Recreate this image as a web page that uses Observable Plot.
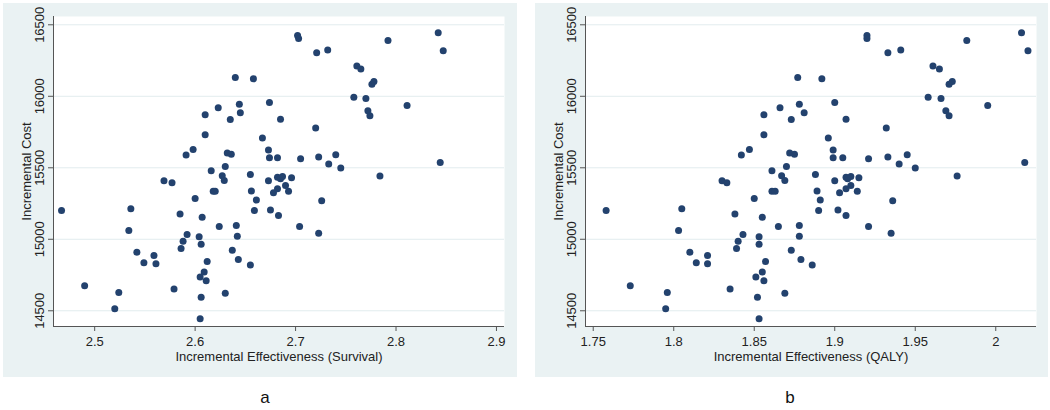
<!DOCTYPE html>
<html>
<head>
<meta charset="utf-8">
<script src="https://cdn.jsdelivr.net/npm/d3@7"></script>
<script src="https://cdn.jsdelivr.net/npm/@observablehq/plot@0.6"></script>
<style>
  html, body { margin: 0; padding: 0; background: #ffffff; }
  #wrap { position: relative; width: 1050px; height: 410px; overflow: hidden; font-family: 'Liberation Sans', Arial, sans-serif; }
  .panel { position: absolute; top: 3px; }
  .tag { position: absolute; top: 388px; font-size: 17px; line-height: 20px; color: #111; transform: translateX(-50%); }
</style>
</head>
<body>
<div id="wrap">
  <div class="panel" id="pa" style="left:3px"></div>
  <div class="panel" id="pb" style="left:535px"></div>
  <div class="tag" style="left:265px">a</div>
  <div class="tag" style="left:790px">b</div>
</div>
<script>
const cost = [16131,16122,15945,15885,15920,15871,15838,15731,15708,15628,
15589,15603,15594,15509,15479,15444,15411,15453,15409,15395,
16425,16404,16444,16318,16390,16304,16323,16211,16190,16085,
16103,15957,15994,15985,15936,15899,15864,15839,15778,15624,
15570,15570,15563,15575,15591,15526,15498,15537,15442,15409,
15434,15423,15439,15430,15376,15353,15336,15325,15336,15336,
15337,15285,15274,15269,15176,15154,15201,15205,15166,15090,
15097,15022,15089,15043,15034,15017,14987,14965,14936,14924,
14845,14859,14820,14771,14736,14710,14652,14622,14594,14444,
15201,15213,15062,14910,14836,14887,14829,14675,14628,14514];

const survival = [2.640,2.658,2.644,2.645,2.623,2.610,2.635,2.610,2.667,2.598,
2.591,2.632,2.636,2.630,2.616,2.627,2.629,2.655,2.569,2.577,
2.702,2.703,2.842,2.847,2.792,2.721,2.732,2.761,2.765,2.776,
2.778,2.674,2.758,2.770,2.811,2.772,2.774,2.685,2.720,2.673,
2.674,2.682,2.705,2.723,2.740,2.733,2.745,2.844,2.784,2.673,
2.682,2.685,2.687,2.696,2.690,2.682,2.693,2.678,2.618,2.620,
2.656,2.600,2.661,2.726,2.585,2.607,2.659,2.675,2.683,2.624,
2.641,2.642,2.704,2.723,2.592,2.604,2.588,2.606,2.586,2.637,
2.612,2.643,2.655,2.609,2.605,2.611,2.579,2.630,2.606,2.605,
2.467,2.536,2.534,2.542,2.549,2.559,2.561,2.490,2.524,2.520];

const qaly = [1.877,1.892,1.878,1.881,1.866,1.856,1.873,1.856,1.896,1.847,
1.842,1.872,1.875,1.870,1.861,1.867,1.869,1.888,1.830,1.833,
1.920,1.920,2.016,2.020,1.982,1.933,1.941,1.961,1.965,1.971,
1.973,1.900,1.958,1.966,1.995,1.969,1.971,1.907,1.932,1.899,
1.899,1.905,1.921,1.933,1.945,1.940,1.950,2.018,1.976,1.900,
1.907,1.908,1.910,1.915,1.910,1.907,1.914,1.903,1.861,1.863,
1.889,1.850,1.891,1.936,1.838,1.855,1.890,1.902,1.907,1.865,
1.878,1.878,1.921,1.935,1.843,1.853,1.840,1.853,1.839,1.873,
1.857,1.879,1.886,1.855,1.851,1.856,1.835,1.869,1.852,1.853,
1.758,1.805,1.803,1.810,1.814,1.821,1.821,1.773,1.796,1.795];

const yTicks = [14500, 15000, 15500, 16000, 16500];
const survTicks = [2.5, 2.6, 2.7, 2.8, 2.9];
const qalyTicks = [1.75, 1.8, 1.85, 1.9, 1.95, 2];
const yLabel = "Incremental Cost";
const survLabel = "Incremental Effectiveness (Survival)";
const qalyLabel = "Incremental Effectiveness (QALY)";

function panel(xs, xLabel, xDomain, xTicks, width, marginRight) {
  const data = cost.map((c, i) => ({x: xs[i], y: c}));
  const yDomain = [14390, 16558];
  return Plot.plot({
    width, height: 374,
    marginLeft: 50, marginRight, marginTop: 13, marginBottom: 51,
    style: {background: "#eaf2f3", fontFamily: "'Liberation Sans', Arial, sans-serif", fontSize: "13px", color: "#222", overflow: "visible"},
    x: {domain: xDomain},
    y: {domain: yDomain},
    marks: [
      Plot.frame({fill: "white", stroke: "none"}),
      Plot.gridY(yTicks, {stroke: "#e2ecee", strokeOpacity: 1, strokeWidth: 1}),
      Plot.ruleX([xDomain[0]], {stroke: "#555", strokeWidth: 1}),
      Plot.ruleY([yDomain[0]], {stroke: "#555", strokeWidth: 1}),
      Plot.axisX(xTicks, {tickSize: 5, tickPadding: 5, stroke: "#555", fill: "#222", tickFormat: d => String(d),
        label: xLabel, labelAnchor: "center", labelArrow: "none", labelOffset: 34}),
      Plot.axisY(yTicks, {tickSize: 5, tickPadding: 5, tickRotate: -90, stroke: "#555", fill: "#222", tickFormat: d => String(d),
        label: yLabel, labelAnchor: "center", labelArrow: "none", labelOffset: 32}),
      Plot.dot(data, {x: "x", y: "y", r: 3.5, fill: "#23426e", stroke: "none"})
    ]
  });
}

document.getElementById("pa").appendChild(panel(survival, survLabel, [2.459, 2.908], survTicks, 514, 13));
document.getElementById("pb").appendChild(panel(qaly, qalyLabel, [1.7452, 2.0253], qalyTicks, 513, 12));
</script>
</body>
</html>
